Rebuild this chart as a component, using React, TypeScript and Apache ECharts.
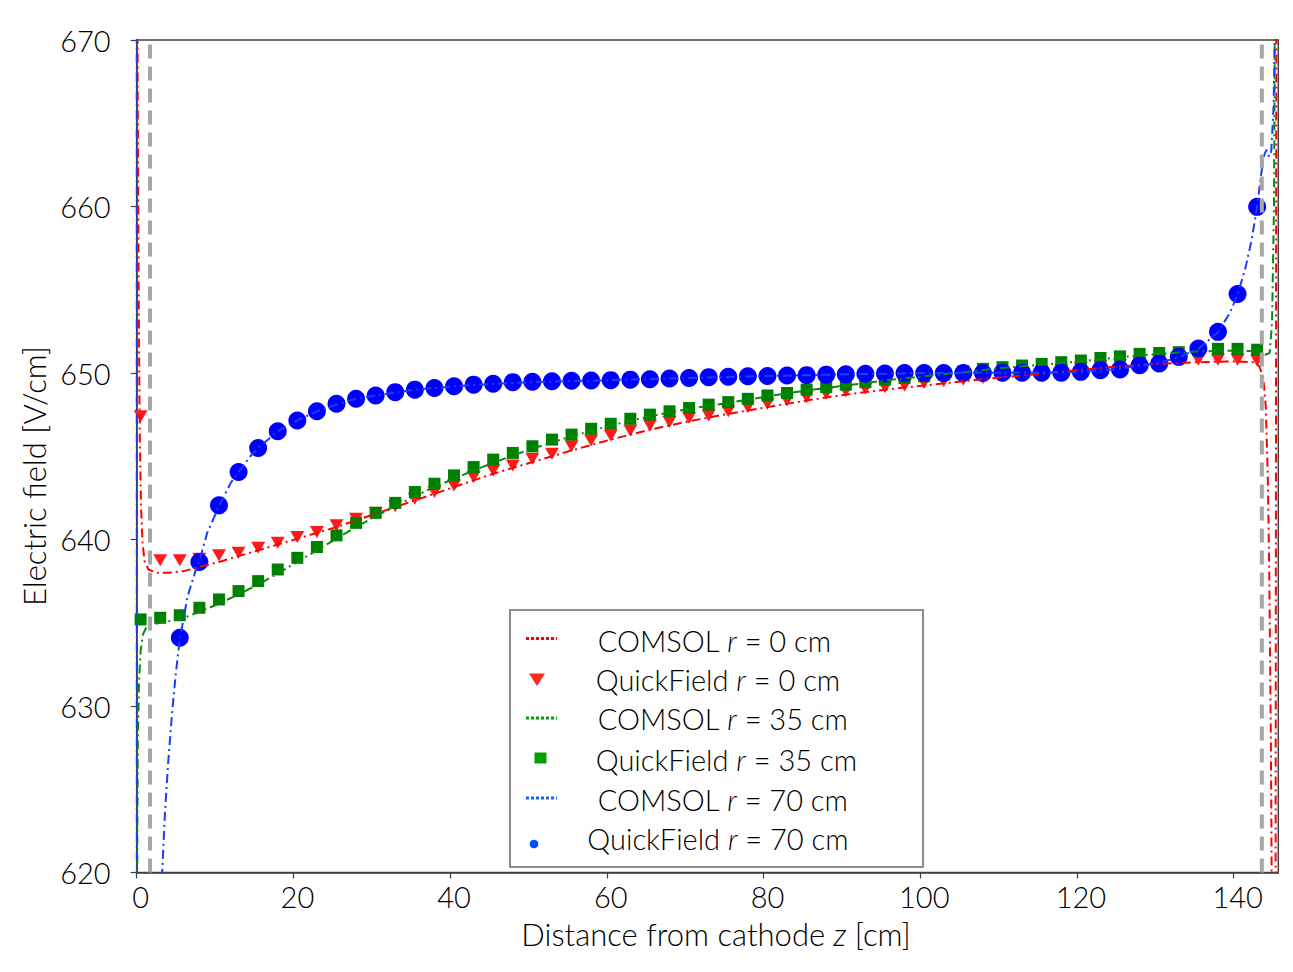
import React, { useEffect, useRef } from "react";
import * as echarts from "echarts";

// ---------- data ----------
const xTicks = [0, 20, 40, 60, 80, 100, 120, 140];
const yTicks = [620, 630, 640, 650, 660, 670];

// QuickField sample positions (cm)
const quickZ = [
  0.5, 3, 5.5, 8, 10.5, 13, 15.5, 18, 20.5, 23, 25.5, 28, 30.5, 33, 35.5, 38, 40.5, 43, 45.5, 48,
  50.5, 53, 55.5, 58, 60.5, 63, 65.5, 68, 70.5, 73, 75.5, 78, 80.5, 83, 85.5, 88, 90.5, 93, 95.5, 98,
  100.5, 103, 105.5, 108, 110.5, 113, 115.5, 118, 120.5, 123, 125.5, 128, 130.5, 133, 135.5, 138, 140.5, 143,
];
const quickField0 = [
  647.4, 638.75, 638.75, 638.85, 639.05, 639.2, 639.5, 639.8, 640.15, 640.45, 640.85, 641.25, 641.6, 642.0, 642.45, 642.85, 643.25, 643.75, 644.15, 644.45,
  644.85, 645.15, 645.6, 645.95, 646.25, 646.55, 646.85, 647.05, 647.3, 647.45, 647.7, 647.95, 648.15, 648.35, 648.55, 648.75, 648.9, 649.05, 649.15, 649.25,
  649.4, 649.5, 649.6, 649.7, 649.8, 649.9, 650.0, 650.2, 650.3, 650.4, 650.5, 650.6, 650.7, 650.75, 650.8, 650.8, 650.8, 650.75,
];
const quickField35 = [
  635.2, 635.3, 635.45, 635.9, 636.4, 636.9, 637.5, 638.2, 638.9, 639.55, 640.25, 641.0, 641.6, 642.2, 642.85, 643.35, 643.85, 644.35, 644.8, 645.2,
  645.6, 646.0, 646.3, 646.65, 646.95, 647.25, 647.5, 647.7, 647.9, 648.1, 648.25, 648.45, 648.65, 648.8, 649.0, 649.15, 649.3, 649.45, 649.6, 649.7,
  649.8, 649.9, 650.1, 650.25, 650.35, 650.45, 650.55, 650.65, 650.75, 650.9, 651.0, 651.15, 651.2, 651.25, 651.35, 651.45, 651.45, 651.4,
];
const quickField70 = [
  null, null, 634.1, 638.65, 642.05, 644.05, 645.5, 646.5, 647.15, 647.7, 648.15, 648.45, 648.65, 648.85, 649.0, 649.1, 649.2, 649.3, 649.35, 649.45,
  649.47, 649.5, 649.53, 649.55, 649.57, 649.6, 649.62, 649.67, 649.7, 649.75, 649.77, 649.8, 649.82, 649.85, 649.87, 649.9, 649.92, 649.95, 649.97, 650.0,
  650.0, 650.0, 650.0, 650.0, 650.02, 650.02, 650.02, 650.02, 650.07, 650.17, 650.21, 650.47, 650.57, 650.97, 651.47, 652.47, 654.74, 659.98,
];

// COMSOL curves
const comsol0Z = [
  0, 0.12, 0.25, 0.4, 0.55, 0.75, 1.0, 1.5, 2.5, 4, 6, 8, 10.5, 13, 15.5, 18, 20.5, 23, 25.5, 28, 30.5, 33, 35.5, 38, 40.5, 43,
  45.5, 48, 50.5, 55.5, 60.5, 65.5, 70.5, 75.5, 80.5, 85.5, 90.5, 95.5, 100.5, 105.5, 110.5, 115.5, 120.5, 125.5, 130.5, 135.5,
  140.5, 142.5, 143.3, 143.8, 144.1, 144.35, 144.55, 144.75, 144.95, 145.3, 145.5,
];
const comsol0E = [
  700, 668, 655, 646, 642, 639.8, 638.7, 638.2, 638.0, 638.0, 638.1, 638.35, 638.65, 639.0, 639.35, 639.7, 640.05, 640.4, 640.75, 641.15, 641.55, 641.95, 642.35, 642.75, 643.15, 643.55,
  643.95, 644.3, 644.65, 645.35, 646.0, 646.6, 647.1, 647.55, 647.95, 648.35, 648.7, 649.0, 649.25, 649.5, 649.75, 649.95, 650.2, 650.4, 650.55, 650.65,
  650.7, 650.65, 650.4, 649.6, 648, 644, 638, 628, 612, 590, 700,
];
const comsol35Z = [
  0, 0.08, 0.15, 0.3, 0.5, 0.8, 1.2, 2, 3, 5.5, 8, 10.5, 13, 15.5, 18, 20.5, 23, 25.5, 28, 30.5, 33, 35.5, 38, 40.5, 43, 45.5, 48,
  50.5, 55.5, 60.5, 65.5, 70.5, 75.5, 80.5, 85.5, 90.5, 95.5, 100.5, 105.5, 110.5, 115.5, 120.5, 125.5, 130.5, 135.5, 140.5, 143,
  144, 144.6, 144.9, 145.15, 145.35,
];
const comsol35E = [
  600, 622, 628, 631.5, 633.3, 634.3, 634.7, 634.9, 635.0, 635.2, 635.65, 636.15, 636.7, 637.3, 637.95, 638.65, 639.35, 640.05, 640.75, 641.4, 642.0, 642.6, 643.15, 643.65, 644.15, 644.6, 645.05,
  645.45, 646.2, 646.85, 647.4, 647.85, 648.2, 648.6, 648.95, 649.25, 649.55, 649.8, 650.05, 650.3, 650.5, 650.7, 650.95, 651.15, 651.3, 651.35, 651.3,
  651.1, 651.2, 653, 660, 680,
];
const comsol70Z = [
  0, 0.03, 3.0, 3.25, 3.6, 4.0, 4.5, 5.0, 5.5, 6.5, 7.5, 8, 9, 10.5, 12, 13, 14.5, 15.5, 18, 20.5, 23, 25.5, 28, 30.5, 35.5, 40.5,
  45.5, 50.5, 60.5, 70.5, 80.5, 90.5, 100.5, 110.5, 118, 120.5, 123, 125.5, 128, 130.5, 133, 135.5, 138, 139.5, 140.5, 141.5,
  142.3, 143, 143.5, 143.9, 144.2, 144.5, 144.8, 145.1, 145.4,
];
const comsol70E = [
  700, 560, 617, 620, 623.5, 626.5, 629.5, 632, 634, 636.6, 638.1, 638.7, 640.4, 642.0, 643.4, 644.05, 645.0, 645.5, 646.5, 647.15, 647.7, 648.1, 648.45, 648.65, 649.0, 649.2,
  649.35, 649.45, 649.57, 649.7, 649.82, 649.92, 650.0, 650.02, 650.03, 650.07, 650.15, 650.25, 650.45, 650.6, 650.95, 651.45, 652.45, 653.6, 654.7, 656.3,
  658.0, 659.98, 661.9, 663.1, 663.4, 663.0, 663.3, 666, 675,
];

// grey dashed boundary markers
const guideZ = [1.7, 143.6];
const guideE = [620, 670];

const legendLabels = [
  { pre: "COMSOL ", post: " = 0 cm" },
  { pre: "QuickField ", post: " = 0 cm" },
  { pre: "COMSOL ", post: " = 35 cm" },
  { pre: "QuickField ", post: " = 35 cm" },
  { pre: "COMSOL ", post: " = 70 cm" },
  { pre: "QuickField ", post: " = 70 cm" },
];

// ---------- helpers ----------
const FONT = "Lato";
const FS = 29;
const TFS = 31;
const pairs = (xs: number[], ys: (number | null)[]) => xs.map((x, i) => [x, ys[i]]);

export default function App() {
  const ref = useRef<HTMLDivElement>(null);

  useEffect(() => {
    if (!ref.current) return;
    const chart = echarts.init(ref.current, null, { renderer: "svg" });
    const dashDot = [9, 4, 2, 4];

    const lineSeries = (name: string, z: number[], e: number[], color: string) => ({
      name,
      type: "line",
      data: pairs(z, e),
      showSymbol: false,
      symbol: "none",
      clip: true,
      silent: true,
      lineStyle: { color, width: 2, type: dashDot },
      z: 3,
    });

    const scatterSeries = (name: string, e: (number | null)[], color: string, symbol: string, size: any, rotate = 0) => ({
      name,
      type: "scatter",
      data: pairs(quickZ, e).filter((p) => p[1] !== null),
      symbol,
      symbolSize: size,
      symbolRotate: rotate,
      clip: true,
      silent: true,
      itemStyle: { color, opacity: 1 },
      z: 2,
    });

    const textBase = { fontFamily: FONT, fontSize: FS, fontWeight: 300, fill: "#000" };
    const mkRich = (fs: number) => ({
      n: { fontFamily: FONT, fontSize: fs, fontWeight: 300, fill: "#000", color: "#000" },
      i: { fontFamily: FONT, fontSize: fs, fontWeight: 300, fontStyle: "italic", fill: "#000", color: "#000" },
    });

    const legendX = [597.7, 595.7, 597.7, 595.7, 597.7, 587.3];
    const legendY = [640, 679, 718.5, 759.5, 799.5, 838.5];

    const legendGraphics: any[] = [
      {
        type: "rect",
        z: 100,
        shape: { x: 510, y: 610, width: 413, height: 257 },
        style: { fill: "#fff", stroke: "#8c8c8c", lineWidth: 2 },
      },
      { type: "line", z: 101, shape: { x1: 526, y1: 638.5, x2: 557, y2: 638.5 }, style: { stroke: "#ff0000", lineWidth: 3, lineDash: [3, 2] } },
      { type: "polygon", z: 101, shape: { points: [[529, 673.5], [545, 673.5], [537, 686]] }, style: { fill: "#ff2a1a" } },
      { type: "line", z: 101, shape: { x1: 526, y1: 718, x2: 557, y2: 718 }, style: { stroke: "#00a000", lineWidth: 3, lineDash: [3, 2] } },
      { type: "rect", z: 101, shape: { x: 534.5, y: 752.5, width: 12, height: 11 }, style: { fill: "#00a000" } },
      { type: "line", z: 101, shape: { x1: 526, y1: 798, x2: 557, y2: 798 }, style: { stroke: "#1a5cff", lineWidth: 3, lineDash: [3, 2] } },
      { type: "circle", z: 101, shape: { cx: 534, cy: 844, r: 4.3 }, style: { fill: "#0050ff" } },
      ...legendLabels.map((l, i) => ({
        type: "text",
        z: 101,
        x: legendX[i],
        y: legendY[i],
        style: {
          ...textBase,
          text: `{n|${l.pre}}{i|r}{n|${l.post}}`,
          rich: mkRich(FS),
          align: "left",
          verticalAlign: "middle",
        },
      })),
    ];

    chart.setOption({
      animation: false,
      backgroundColor: "#fff",
      grid: {
        left: 136.7,
        right: 14.7,
        top: 40,
        bottom: 99.5,
        show: true,
        borderColor: "#404040",
        borderWidth: 1.5,
        backgroundColor: "transparent",
      },
      xAxis: {
        type: "value",
        min: 0,
        max: 145.7,
        interval: 20,
        splitLine: { show: false },
        axisLine: { lineStyle: { color: "#404040", width: 1.5 } },
        axisTick: { length: 6, lineStyle: { color: "#404040", width: 1.2 }, customValues: xTicks },
        axisLabel: {
          customValues: xTicks,
          margin: 9,
          padding: [0, 0, 0, 8],
          color: "#000",
          fontFamily: FONT,
          fontSize: FS,
          fontWeight: 300,
        },
      },
      yAxis: {
        type: "value",
        min: 620,
        max: 670,
        interval: 10,
        splitLine: { show: false },
        axisLine: { show: true, lineStyle: { color: "#404040", width: 1.5 } },
        axisTick: { show: true, length: 6, lineStyle: { color: "#404040", width: 1.2 }, customValues: yTicks },
        axisLabel: {
          customValues: yTicks,
          margin: 26,
          color: "#000",
          fontFamily: FONT,
          fontSize: FS,
          fontWeight: 300,
        },
      },
      series: [
        scatterSeries("QuickField r = 0 cm", quickField0, "#ff1a1a", "triangle", [14, 12], 180),
        scatterSeries("QuickField r = 35 cm", quickField35, "#008000", "rect", 12),
        scatterSeries("QuickField r = 70 cm", quickField70, "#0000ff", "circle", 18),
        lineSeries("COMSOL r = 0 cm", comsol0Z, comsol0E, "#ff0000"),
        lineSeries("COMSOL r = 35 cm", comsol35Z, comsol35E, "#0a8a0a"),
        lineSeries("COMSOL r = 70 cm", comsol70Z, comsol70E, "#1a3cff"),
        ...guideZ.map((gz, i) => ({
          name: "boundary " + (i + 1),
          type: "line",
          data: guideE.map((e) => [gz, e]),
          showSymbol: false,
          symbol: "none",
          silent: true,
          lineStyle: { color: "#a6a6a6", width: 4, type: [14, 8] },
          z: 5,
        })),
      ],
      graphic: [
        {
          type: "text",
          x: 34,
          y: 476,
          rotation: Math.PI / 2,
          style: { ...textBase, fontSize: TFS, text: "Electric field [V/cm]", align: "center", verticalAlign: "middle" },
        },
        {
          type: "text",
          x: 716,
          y: 934,
          style: {
            ...textBase,
            fontSize: TFS,
            text: "{n|Distance from cathode }{i|z}{n| [cm]}",
            rich: mkRich(TFS),
            align: "center",
            verticalAlign: "middle",
          },
        },
        ...legendGraphics,
      ],
    });

    return () => chart.dispose();
  }, []);

  return (
    <div
      ref={ref}
      style={{ position: "absolute", left: 0, top: 0, width: 1293, height: 972, background: "#fff" }}
    />
  );
}
